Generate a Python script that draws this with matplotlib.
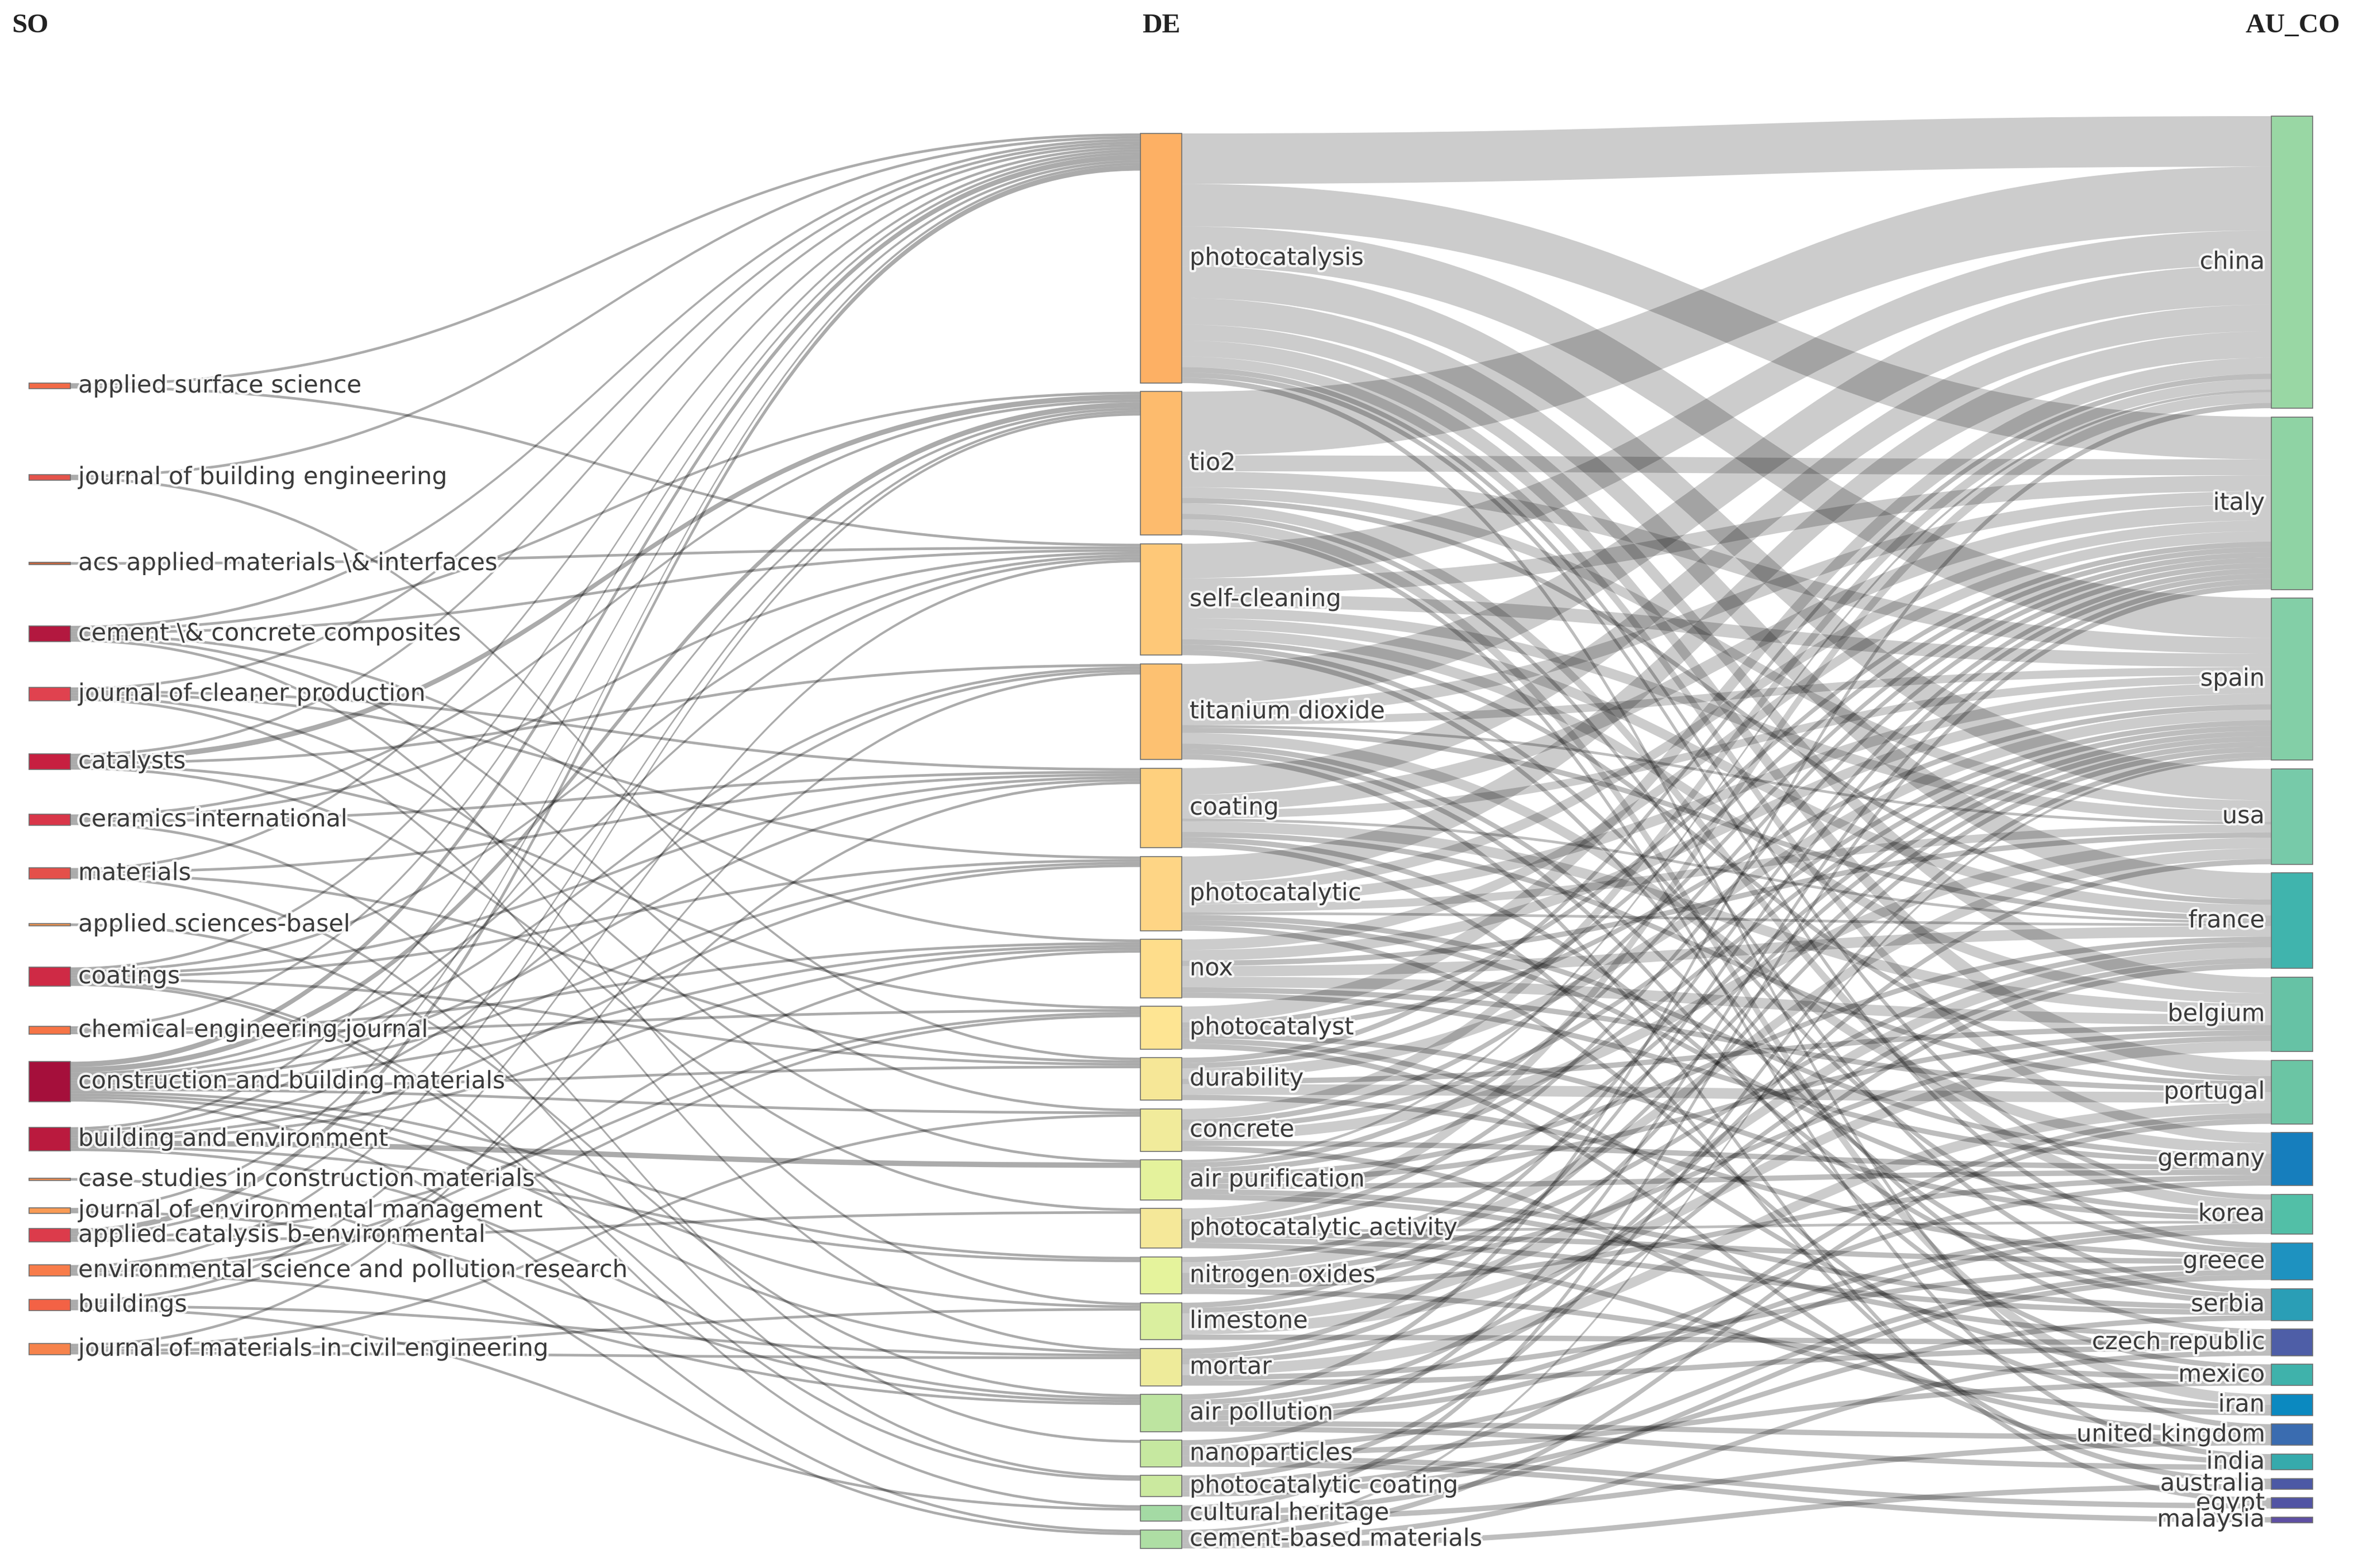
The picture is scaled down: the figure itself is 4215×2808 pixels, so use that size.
import matplotlib
matplotlib.use("Agg")
import matplotlib.pyplot as plt
from matplotlib.path import Path
from matplotlib.patches import PathPatch, Rectangle
import matplotlib.patheffects as pe

# ---- data: three-field plot  SO -> DE -> AU_CO ----
so_names = ["applied surface science", "journal of building engineering",
            "acs applied materials \\& interfaces", "cement \\& concrete composites",
            "journal of cleaner production", "catalysts", "ceramics international",
            "materials", "applied sciences-basel", "coatings", "chemical engineering journal",
            "construction and building materials", "building and environment",
            "case studies in construction materials", "journal of environmental management",
            "applied catalysis b-environmental", "environmental science and pollution research",
            "buildings", "journal of materials in civil engineering"]

de_names = ["photocatalysis", "tio2", "self-cleaning", "titanium dioxide", "coating",
            "photocatalytic", "nox", "photocatalyst", "durability", "concrete",
            "air purification", "photocatalytic activity", "nitrogen oxides", "limestone",
            "mortar", "air pollution", "nanoparticles", "photocatalytic coating",
            "cultural heritage", "cement-based materials"]

co_names = ["china", "italy", "spain", "usa", "france", "belgium", "portugal", "germany",
            "korea", "greece", "serbia", "czech republic", "mexico", "iran",
            "united kingdom", "india", "australia", "egypt", "malaysia"]

so_de_links = [
    ("applied surface science", "photocatalysis", 1), ("applied surface science", "self-cleaning", 1),
    ("journal of building engineering", "photocatalysis", 1), ("journal of building engineering", "durability", 1),
    ("acs applied materials \\& interfaces", "self-cleaning", 1),
    ("cement \\& concrete composites", "photocatalysis", 1), ("cement \\& concrete composites", "tio2", 1),
    ("cement \\& concrete composites", "self-cleaning", 1), ("cement \\& concrete composites", "nox", 1),
    ("cement \\& concrete composites", "concrete", 1), ("cement \\& concrete composites", "limestone", 1),
    ("journal of cleaner production", "photocatalysis", 1), ("journal of cleaner production", "coating", 1),
    ("journal of cleaner production", "photocatalytic", 1), ("journal of cleaner production", "air purification", 1),
    ("journal of cleaner production", "mortar", 1),
    ("catalysts", "photocatalysis", 1), ("catalysts", "tio2", 2), ("catalysts", "titanium dioxide", 1),
    ("catalysts", "photocatalyst", 1), ("catalysts", "photocatalytic activity", 1),
    ("ceramics international", "tio2", 1), ("ceramics international", "self-cleaning", 1),
    ("ceramics international", "coating", 1), ("ceramics international", "nanoparticles", 1),
    ("materials", "photocatalysis", 1), ("materials", "coating", 1), ("materials", "durability", 1),
    ("materials", "photocatalytic coating", 1),
    ("applied sciences-basel", "air pollution", 1),
    ("coatings", "photocatalysis", 1), ("coatings", "self-cleaning", 1), ("coatings", "coating", 1),
    ("coatings", "photocatalytic", 1), ("coatings", "durability", 1), ("coatings", "photocatalytic coating", 1),
    ("coatings", "cultural heritage", 1),
    ("chemical engineering journal", "photocatalysis", 1), ("chemical engineering journal", "nox", 1),
    ("chemical engineering journal", "photocatalyst", 1),
    ("construction and building materials", "photocatalysis", 2), ("construction and building materials", "tio2", 2),
    ("construction and building materials", "self-cleaning", 1), ("construction and building materials", "titanium dioxide", 1),
    ("construction and building materials", "coating", 1), ("construction and building materials", "photocatalytic", 1),
    ("construction and building materials", "nox", 1), ("construction and building materials", "durability", 1),
    ("construction and building materials", "concrete", 1), ("construction and building materials", "limestone", 1),
    ("construction and building materials", "mortar", 1), ("construction and building materials", "cement-based materials", 1),
    ("construction and building materials", "nitrogen oxides", 1),
    ("building and environment", "photocatalysis", 1), ("building and environment", "tio2", 1),
    ("building and environment", "titanium dioxide", 1), ("building and environment", "photocatalytic", 1),
    ("building and environment", "nox", 1), ("building and environment", "air purification", 2),
    ("building and environment", "nitrogen oxides", 1), ("building and environment", "air pollution", 1),
    ("case studies in construction materials", "cement-based materials", 1),
    ("journal of environmental management", "photocatalysis", 1), ("journal of environmental management", "air pollution", 1),
    ("applied catalysis b-environmental", "photocatalysis", 2), ("applied catalysis b-environmental", "tio2", 1),
    ("applied catalysis b-environmental", "photocatalyst", 1), ("applied catalysis b-environmental", "photocatalytic activity", 1),
    ("environmental science and pollution research", "tio2", 1), ("environmental science and pollution research", "photocatalyst", 1),
    ("environmental science and pollution research", "nox", 1), ("environmental science and pollution research", "air pollution", 1),
    ("buildings", "self-cleaning", 1), ("buildings", "coating", 1), ("buildings", "mortar", 1),
    ("buildings", "cultural heritage", 1),
    ("journal of materials in civil engineering", "titanium dioxide", 1), ("journal of materials in civil engineering", "concrete", 1),
    ("journal of materials in civil engineering", "limestone", 1), ("journal of materials in civil engineering", "mortar", 1),
]

de_co_links = [
    ("photocatalysis", "china", 19), ("photocatalysis", "italy", 16), ("photocatalysis", "spain", 15),
    ("photocatalysis", "usa", 12), ("photocatalysis", "france", 10), ("photocatalysis", "belgium", 6),
    ("photocatalysis", "portugal", 6), ("photocatalysis", "germany", 4), ("photocatalysis", "korea", 2),
    ("photocatalysis", "greece", 2), ("photocatalysis", "united kingdom", 2),
    ("tio2", "china", 24), ("tio2", "italy", 6), ("tio2", "spain", 6), ("tio2", "usa", 4),
    ("tio2", "france", 2), ("tio2", "korea", 4), ("tio2", "serbia", 2), ("tio2", "iran", 4), ("tio2", "india", 2),
    ("self-cleaning", "china", 13), ("self-cleaning", "italy", 6), ("self-cleaning", "spain", 5),
    ("self-cleaning", "usa", 4), ("self-cleaning", "france", 4), ("self-cleaning", "belgium", 4),
    ("self-cleaning", "portugal", 2), ("self-cleaning", "greece", 2), ("self-cleaning", "czech republic", 2),
    ("titanium dioxide", "china", 15), ("titanium dioxide", "italy", 5), ("titanium dioxide", "spain", 3),
    ("titanium dioxide", "usa", 1), ("titanium dioxide", "france", 2), ("titanium dioxide", "germany", 4),
    ("titanium dioxide", "serbia", 2), ("titanium dioxide", "mexico", 2), ("titanium dioxide", "egypt", 2),
    ("coating", "china", 10), ("coating", "italy", 6), ("coating", "spain", 3), ("coating", "france", 1),
    ("coating", "belgium", 4), ("coating", "portugal", 2), ("coating", "serbia", 2), ("coating", "australia", 2),
    ("photocatalytic", "china", 10), ("photocatalytic", "italy", 4), ("photocatalytic", "spain", 4),
    ("photocatalytic", "usa", 3), ("photocatalytic", "france", 1), ("photocatalytic", "germany", 2),
    ("photocatalytic", "korea", 2), ("photocatalytic", "iran", 2),
    ("nox", "italy", 4), ("nox", "spain", 4), ("nox", "usa", 2), ("nox", "france", 4),
    ("nox", "belgium", 4), ("nox", "portugal", 2), ("nox", "germany", 2),
    ("photocatalyst", "china", 6), ("photocatalyst", "italy", 2), ("photocatalyst", "spain", 2),
    ("photocatalyst", "korea", 2), ("photocatalyst", "mexico", 2), ("photocatalyst", "india", 2),
    ("durability", "china", 2), ("durability", "italy", 2), ("durability", "spain", 4),
    ("durability", "belgium", 2), ("durability", "portugal", 4), ("durability", "greece", 2),
    ("concrete", "china", 4), ("concrete", "italy", 2), ("concrete", "spain", 2), ("concrete", "usa", 4),
    ("concrete", "germany", 2), ("concrete", "united kingdom", 2),
    ("air purification", "china", 1), ("air purification", "italy", 2), ("air purification", "spain", 2),
    ("air purification", "france", 2), ("air purification", "belgium", 2), ("air purification", "germany", 2),
    ("air purification", "serbia", 2), ("air purification", "czech republic", 2),
    ("photocatalytic activity", "china", 4), ("photocatalytic activity", "italy", 2),
    ("photocatalytic activity", "spain", 2), ("photocatalytic activity", "korea", 1),
    ("photocatalytic activity", "greece", 2), ("photocatalytic activity", "serbia", 2),
    ("photocatalytic activity", "iran", 2),
    ("nitrogen oxides", "spain", 2), ("nitrogen oxides", "usa", 4), ("nitrogen oxides", "france", 2),
    ("nitrogen oxides", "belgium", 2), ("nitrogen oxides", "germany", 2), ("nitrogen oxides", "mexico", 2),
    ("limestone", "italy", 2), ("limestone", "spain", 2), ("limestone", "france", 4),
    ("limestone", "belgium", 4), ("limestone", "czech republic", 2),
    ("mortar", "italy", 2), ("mortar", "spain", 2), ("mortar", "france", 2), ("mortar", "portugal", 4),
    ("mortar", "greece", 2), ("mortar", "czech republic", 2),
    ("air pollution", "china", 2), ("air pollution", "usa", 2), ("air pollution", "france", 2),
    ("air pollution", "germany", 2), ("air pollution", "korea", 2), ("air pollution", "united kingdom", 2),
    ("air pollution", "india", 2),
    ("nanoparticles", "italy", 2), ("nanoparticles", "korea", 2), ("nanoparticles", "mexico", 2),
    ("nanoparticles", "egypt", 2), ("nanoparticles", "malaysia", 2),
    ("photocatalytic coating", "spain", 2), ("photocatalytic coating", "portugal", 2),
    ("photocatalytic coating", "greece", 2), ("photocatalytic coating", "serbia", 2),
    ("cultural heritage", "italy", 2), ("cultural heritage", "greece", 2), ("cultural heritage", "united kingdom", 2),
    ("cement-based materials", "spain", 1), ("cement-based materials", "portugal", 2),
    ("cement-based materials", "czech republic", 2), ("cement-based materials", "australia", 2),
]

# ---- styles ----
so_colors = ["#f26a47", "#e4534b", "#c8643c", "#b3183f", "#e0424f", "#c71f40", "#d93649",
             "#e4504a", "#f7924f", "#cf2a45", "#f67446", "#a50f3b", "#ba1a3e", "#f68a4e",
             "#f99b55", "#dc3b4b", "#f87c4a", "#f36245", "#f6834c"]
de_colors = ["#fdb064", "#fdbb6d", "#fec878", "#fdc171", "#fed07e", "#fed585", "#fedd8b",
             "#fee593", "#f6e797", "#f1eb9b", "#e4f29c", "#f5e899", "#e5f39c", "#daef9f",
             "#eeeb9a", "#bde4a0", "#c6e8a0", "#cbe99f", "#a4daa4", "#aedea4"]
co_colors = ["#99d7a4", "#8fd3a4", "#83cfa7", "#77caa9", "#40b4ad", "#66c2a5", "#6bc5a4",
             "#167ebd", "#52bfa7", "#1e92c0", "#2a9eb6", "#4e5ea7", "#3fb2ab", "#0b89c0",
             "#3a6cb0", "#36aaac", "#4c59a5", "#5154a4", "#5e4fa2"]

# layout (pixels of the 4215 x 2808 canvas)
W, H = 4215, 2808
NODE_W = 74
col_left = [52, 2042, 4067]
mid_top, mid_bottom, right_top = 239, 2773, 208
pad = 15.5
so_center = [691, 855, 1009, 1135, 1243, 1364, 1468, 1564, 1656, 1749, 1845, 1937,
             2040, 2112, 2168, 2212, 2275, 2337, 2416]


def totals(links):
    out, inn = {}, {}
    for s, t, v in links:
        out[s] = out.get(s, 0) + v
        inn[t] = inn.get(t, 0) + v
    return out, inn


out1, in1 = totals(so_de_links)
out2, in2 = totals(de_co_links)
so_val = [out1.get(n, 0) for n in so_names]
de_val = [max(in1.get(n, 0), out2.get(n, 0)) for n in de_names]
co_val = [in2.get(n, 0) for n in co_names]

k = (mid_bottom - mid_top - (len(de_names) - 1) * pad) / sum(de_val)

nodes = {}  # name -> [x0, top, height]
for n, v, c in zip(so_names, so_val, so_center):
    h = v * k
    nodes[n] = [col_left[0], c - h / 2, h]
y = mid_top
for n, v in zip(de_names, de_val):
    nodes[n] = [col_left[1], y, v * k]
    y += v * k + pad
y = right_top
for n, v in zip(co_names, co_val):
    nodes[n] = [col_left[2], y, v * k]
    y += v * k + pad


def center(n):
    x0, t, h = nodes[n]
    return t + h / 2


def band_paths(links):
    out_cur = {n: nodes[n][1] for n in nodes}
    in_cur = {n: nodes[n][1] for n in nodes}
    src_pos, dst_pos = {}, {}
    # outgoing sorted by target position, incoming by source position
    for s in {l[0] for l in links}:
        for l in sorted([l for l in links if l[0] == s], key=lambda l: center(l[1])):
            src_pos[l] = out_cur[s]
            out_cur[s] += l[2] * k
    for t in {l[1] for l in links}:
        for l in sorted([l for l in links if l[1] == t], key=lambda l: center(l[0])):
            dst_pos[l] = in_cur[t]
            in_cur[t] += l[2] * k
    res = []
    for l in links:
        s, t, v = l
        x0 = nodes[s][0] + NODE_W
        x1 = nodes[t][0]
        xm = (x0 + x1) / 2
        a0, a1 = src_pos[l], dst_pos[l]
        b0, b1 = a0 + v * k, a1 + v * k
        verts = [(x0, a0), (xm, a0), (xm, a1), (x1, a1), (x1, b1), (xm, b1), (xm, b0), (x0, b0), (x0, a0)]
        codes = [Path.MOVETO, Path.CURVE4, Path.CURVE4, Path.CURVE4, Path.LINETO,
                 Path.CURVE4, Path.CURVE4, Path.CURVE4, Path.CLOSEPOLY]
        res.append((Path(verts, codes), v))
    return res


fig = plt.figure(figsize=(W / 100, H / 100), dpi=100)
ax = fig.add_axes([0, 0, 1, 1])
ax.set_xlim(0, W)
ax.set_ylim(H, 0)
ax.axis("off")

for p, v in band_paths(so_de_links):
    ax.add_patch(PathPatch(p, facecolor=(0, 0, 0, 0.33), edgecolor="none"))
for p, v in band_paths(de_co_links):
    a = 0.2 if v > 2 else 0.26
    ax.add_patch(PathPatch(p, facecolor=(0, 0, 0, a), edgecolor="none"))

halo = [pe.withStroke(linewidth=6, foreground=(1, 1, 1, 0.85))]
label_kw = dict(fontsize=31, color="#3a3a3a", va="center", family="DejaVu Sans",
                path_effects=halo)

for names, cols in [(so_names, so_colors), (de_names, de_colors), (co_names, co_colors)]:
    for n, c in zip(names, cols):
        x0, t, h = nodes[n]
        ax.add_patch(Rectangle((x0, t), NODE_W, h, facecolor=c, edgecolor="#6e6e6e", linewidth=1.2))

for n in so_names:
    x0, t, h = nodes[n]
    ax.text(x0 + NODE_W + 14, t + h / 2, n, ha="left", **label_kw)
for n in de_names:
    x0, t, h = nodes[n]
    ax.text(x0 + NODE_W + 14, t + h / 2, n, ha="left", **label_kw)
for n in co_names:
    x0, t, h = nodes[n]
    ax.text(x0 - 12, t + h / 2, n, ha="right", **label_kw)

head_kw = dict(fontsize=35.5, fontweight="bold", family="Liberation Serif", color="#222222", va="center")
ax.text(21, 46, "SO", ha="left", **head_kw)
ax.text(col_left[1] + NODE_W / 2, 46, "DE", ha="center", **head_kw)
ax.text(4190, 46, "AU_CO", ha="right", **head_kw)

fig.savefig("out.png", dpi=100, facecolor="white")
